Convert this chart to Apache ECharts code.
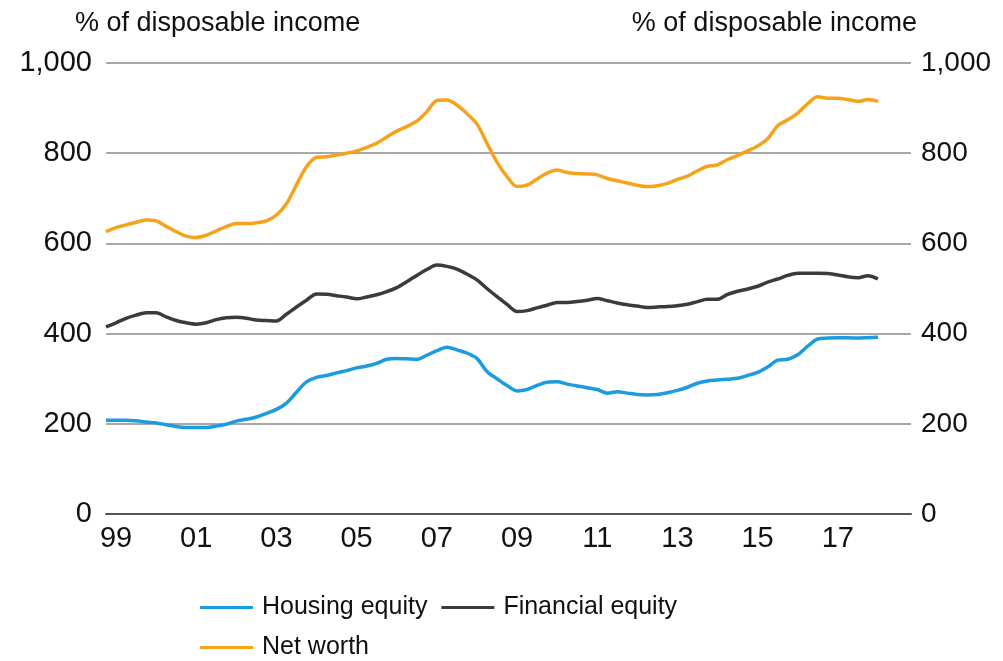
<!DOCTYPE html>
<html><head><meta charset="utf-8">
<script src="https://cdn.jsdelivr.net/npm/echarts@6/dist/echarts.min.js"></script>
<style>html,body{margin:0;padding:0;background:#fff}#c{width:1003px;height:661px}</style>
</head><body><div id="c"></div>
<script>
// Quarterly observations, 1998 Q4 .. 2018 Q1 (x = year fraction)
const startYear = 1998.75;
const housingEquity = [208,208,208,207,204,202,198,194,192,192,192,195,199,206,210,215,223,232,246,270,293,303,307,313,318,324,328,334,343,345,344,343,352,362,370,364,357,345,316,300,285,273,276,285,292,293,288,284,280,276,268,271,268,265,264,265,269,274,281,290,295,297,299,301,307,314,326,341,343,353,372,388,390,391,391,390,391,392];
const financialEquity = [415,424,434,441,446,446,437,429,424,421,424,431,435,436,434,430,429,428,443,459,474,488,487,484,481,477,481,486,493,502,515,529,542,552,549,543,532,519,500,482,465,449,451,457,463,469,469,471,474,478,473,468,464,461,458,459,460,462,465,471,476,476,487,494,499,505,514,521,529,534,534,534,533,530,526,524,528,521];
const netWorth = [626,635,641,647,652,650,638,626,616,613,618,628,637,644,644,646,650,663,688,730,770,791,792,796,800,805,813,822,836,849,859,871,892,917,918,907,888,865,822,780,748,726,729,743,756,763,757,755,754,752,744,739,734,729,726,728,733,742,749,761,771,774,786,795,805,816,832,861,874,889,910,925,922,922,919,915,919,915];
const xTickYears = [1999,2001,2003,2005,2007,2009,2011,2013,2015,2017];
const yTicks = [0,200,400,600,800,1000];
const seriesNames = ['Housing equity','Financial equity','Net worth'];
const colors = ['#1b9be0','#3b3b3b','#f7a21b'];
const unitLabel = '% of disposable income';

const toPairs = arr => arr.map((v,i)=>[startYear + i*0.25, v]);
const fmtY = v => v.toLocaleString('en-US');
const FONT = '"Liberation Sans", Arial, sans-serif';

const chart = echarts.init(document.getElementById('c'), null, {renderer:'canvas'});
chart.setOption({
  animation:false,
  backgroundColor:'#fff',
  textStyle:{fontFamily:FONT,color:'#111'},
  title:[
    {text:unitLabel,left:70,top:5,textStyle:{fontSize:27,fontWeight:'normal',color:'#111',fontFamily:FONT}},
    {text:unitLabel,right:81,top:5,textStyle:{fontSize:27,fontWeight:'normal',color:'#111',fontFamily:FONT}}
  ],
  grid:{left:106,right:92,top:63,bottom:147,containLabel:false},
  xAxis:{
    type:'value',min:startYear,max:2018.825,
    axisLine:{show:true,onZero:false,lineStyle:{color:'#555',width:2}},
    axisTick:{show:false},
    splitLine:{show:false},
    axisLabel:{customValues:xTickYears,fontSize:29,color:'#111',margin:10,fontFamily:FONT,
      formatter:v=>String(Math.round(v)%100).padStart(2,'0')}
  },
  yAxis:[
    {type:'value',min:0,max:1000,interval:200,position:'left',
     axisLine:{show:false},axisTick:{show:false},
     splitLine:{show:true,lineStyle:{color:'#a8a8a8',width:2}},
     axisLabel:{fontSize:29,color:'#111',margin:14,fontFamily:FONT,formatter:fmtY}},
    {type:'value',min:0,max:1000,interval:200,position:'right',
     axisLine:{show:false},axisTick:{show:false},splitLine:{show:false},
     axisLabel:{fontSize:28,color:'#111',margin:10,fontFamily:FONT,formatter:fmtY}}
  ],
  legend:[
    {data:[seriesNames[0],seriesNames[1]],left:195,top:590,orient:'horizontal',
     icon:'rect',itemWidth:53,itemHeight:3,itemGap:14,
     textStyle:{fontSize:25,color:'#111',fontFamily:FONT,padding:[0,0,0,4]}},
    {data:[seriesNames[2]],left:195,top:630,orient:'horizontal',
     icon:'rect',itemWidth:53,itemHeight:3,itemGap:14,
     textStyle:{fontSize:25,color:'#111',fontFamily:FONT,padding:[0,0,0,4]}}
  ],
  series:[
    {name:seriesNames[0],type:'line',data:toPairs(housingEquity),showSymbol:false,smooth:0.3,
     lineStyle:{color:colors[0],width:3.5},itemStyle:{color:colors[0]}},
    {name:seriesNames[1],type:'line',data:toPairs(financialEquity),showSymbol:false,smooth:0.3,
     lineStyle:{color:colors[1],width:3.5},itemStyle:{color:colors[1]}},
    {name:seriesNames[2],type:'line',data:toPairs(netWorth),showSymbol:false,smooth:0.3,
     lineStyle:{color:colors[2],width:3.5},itemStyle:{color:colors[2]}}
  ]
});
</script></body></html>
